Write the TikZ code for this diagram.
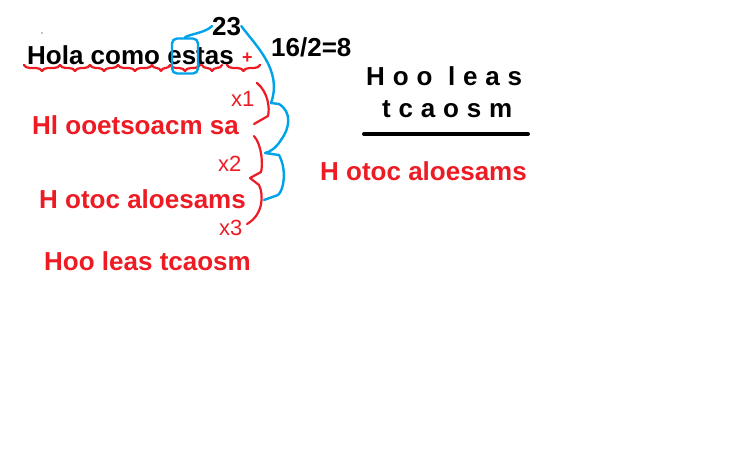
\documentclass[tikz,border=0pt]{standalone}
\usepackage{fontspec}
\setmainfont{Liberation Sans}
\usetikzlibrary{decorations.pathreplacing}
\definecolor{paintred}{RGB}{237,28,36}
\definecolor{paintblue}{RGB}{0,162,232}

\begin{document}
\begin{tikzpicture}[
		x=1pt, y=-1pt,
		every node/.style={
				anchor=base west,
				inner sep=0pt
			},
		bigtxt/.style={font=\fontsize{26}{30}\selectfont\bfseries},
		redtxt/.style={bigtxt, text=paintred},
		hand/.style={font=\fontsize{22}{24}\selectfont, text=paintred},
		redpen/.style={draw=paintred, line width=2.2pt, line cap=round, line join=round},
		bluepen/.style={draw=paintblue, line width=2.4pt, line cap=round, line join=round},
		pairbrace/.style={redpen, decorate, decoration={brace, mirror, amplitude=6pt}}
	]
	\useasboundingbox (0,0) rectangle (753,467);

	% the sentence and its pairs
	\node[bigtxt] (frase) at (27,64) {Hola como estas};
	\node[font=\fontsize{18}{20}\selectfont\bfseries, text=paintred] (mas) at (242,63) {+};
	\fill (42,33) circle (0.7pt);

	\foreach \xa/\xb in {24/60, 60/90, 90/118, 118/152, 152/170, 170/200, 202/222, 227/260}
		\draw[pairbrace] (\xa,65) -- (\xb,65);

	% the 8 letters that fall out
	\node[bigtxt] (veintitres) at (212,35) {23};
	\node[bigtxt] (mitad) at (271,56) {16/2=8};

	\node[draw=paintblue, line width=2.4pt, rounded corners=5pt,
		minimum width=26pt, minimum height=35pt, anchor=center] (esbox) at (185,56) {};

	\draw[bluepen] (esbox.north) .. controls (190,34) and (205,33) .. (veintitres.west);
	\coordinate (bajada) at (271,103);
	\draw[bluepen] (veintitres.east) .. controls (255,45) and (283,70) .. (bajada);

	% blue brace over the two rows
	\coordinate (punta) at (265,153);
	\draw[bluepen] (bajada) -- (279,104) .. controls (292,112) and (290,128) .. (281,140)
		.. controls (276,148) and (270,152) .. (punta) -- (279,155)
		.. controls (287,170) and (284,190) .. (278,195) -- (264,200);

	% steps
	\node[redtxt] (paso1) at (32,134) {Hl ooetsoacm sa};
	\node[redtxt] (paso2) at (39,208) {H otoc aloesams};
	\node[redtxt] (paso3) at (44,270) {Hoo leas tcaosm};

	\node[hand] (xuno) at (231,106) {x1};
	\node[hand] (xdos) at (218,171) {x2};
	\node[hand] (xtres) at (219,235) {x3};

	\draw[redpen] (257,83) .. controls (268,92) and (270,108) .. (268,116) -- (254,124);
	\draw[redpen] (254,136) .. controls (262,145) and (263,165) .. (261,172) -- (250,178)
		-- (259,185) .. controls (264,195) and (263,215) .. (247,224);

	% result on the right
	\node[bigtxt] (fila1) at (366,85) {\makebox[156pt][s]{H o o \ l e a s}};
	\node[bigtxt] (fila2) at (382,117) {\makebox[130pt][s]{t c a o s m}};
	\coordinate (raya1) at (364,134);
	\coordinate (raya2) at (528,134);
	\draw[line width=4pt, line cap=round] (raya1) -- (raya2);
	\node[redtxt] (resultado) at (320,180) {H otoc aloesams};
\end{tikzpicture}
\end{document}
